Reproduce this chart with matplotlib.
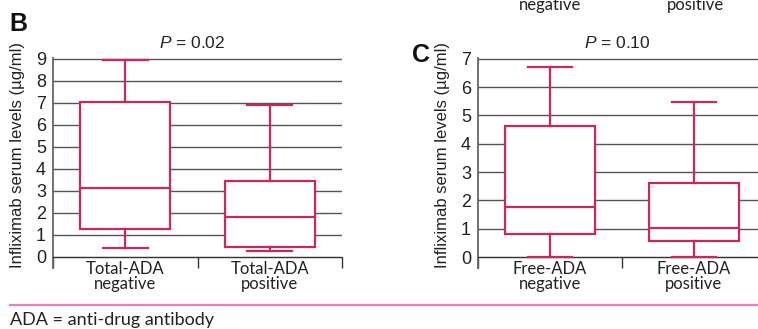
import matplotlib.pyplot as plt

# panel B: total ADA
groups_b = ['Total-ADA\nnegative', 'Total-ADA\npositive']
whislo_b = [0.4, 0.25]
q1_b = [1.25, 0.45]
med_b = [3.15, 1.8]
q3_b = [7.05, 3.45]
whishi_b = [8.95, 6.9]

# panel C: free ADA
groups_c = ['Free-ADA\nnegative', 'Free-ADA\npositive']
whislo_c = [0.0, 0.0]
q1_c = [0.8, 0.55]
med_c = [1.78, 1.04]
q3_c = [4.62, 2.6]
whishi_c = [6.72, 5.47]

W, H = 758, 329
RED = '#c8285c'
GRID = '#555555'

plt.rcParams['mathtext.fontset'] = 'custom'
plt.rcParams['mathtext.it'] = 'Liberation Sans:italic'
plt.rcParams['mathtext.rm'] = 'Liberation Sans'

fig = plt.figure(figsize=(W / 100, H / 100), dpi=100)


def px_box(l, t, r, b):
    return [l / W, 1 - b / H, (r - l) / W, (b - t) / H]


def panel(rect, groups, lo, q1, med, q3, hi, ymax, ybot):
    ax = fig.add_axes(rect)
    stats = []
    for i in range(len(groups)):
        stats.append(dict(whislo=lo[i], q1=q1[i], med=med[i], q3=q3[i], whishi=hi[i], fliers=[]))
    ax.bxp(stats, positions=[0.5, 1.5], widths=0.62, capwidths=0.31,
           patch_artist=True, showfliers=False,
           boxprops=dict(facecolor='white', edgecolor=RED, linewidth=1.6),
           medianprops=dict(color=RED, linewidth=1.6),
           whiskerprops=dict(color=RED, linewidth=1.6),
           capprops=dict(color=RED, linewidth=1.6),
           zorder=3)
    ax.set_xlim(0, 2)
    ax.set_ylim(ybot, ymax + 0.03)
    ax.set_yticks(range(0, ymax + 1))
    ax.yaxis.grid(True, color=GRID, linewidth=1)
    ax.set_axisbelow(True)
    for s in ['top', 'right']:
        ax.spines[s].set_visible(False)
    ax.spines['bottom'].set_position(('data', 0))
    ax.spines['bottom'].set_color('#333333')
    ax.spines['left'].set_color('#666666')
    ax.spines['left'].set_linewidth(1.3)
    ax.set_xticks([0, 1, 2])
    ax.set_xticklabels([])
    ax.set_xticks([0.5, 1.5], minor=True)
    ax.set_xticklabels(groups, minor=True, fontfamily='Lato', fontsize=12,
                       linespacing=0.9, color='#222222')
    ax.tick_params(axis='x', which='major', length=8, width=1, color='#333333')
    ax.tick_params(axis='x', which='minor', length=0, pad=3)
    ax.tick_params(axis='y', length=0, pad=5, labelsize=13, labelcolor='#222222')
    for lab in ax.get_yticklabels():
        lab.set_fontfamily('Liberation Sans')
    return ax


panel(px_box(53, 58, 342, 268), groups_b, whislo_b, q1_b, med_b, q3_b, whishi_b, 9, -0.5)
panel(px_box(478, 58, 766, 268), groups_c, whislo_c, q1_c, med_c, q3_c, whishi_c, 7, -0.387)

ylab = 'Infliximab serum levels (µg/ml)'
fig.text(18 / W, 1 - 155.5 / H, ylab, rotation=90, ha='center', va='center',
         fontfamily='Liberation Sans', fontsize=12, color='#222222')
fig.text(443 / W, 1 - 154.5 / H, ylab, rotation=90, ha='center', va='center',
         fontfamily='Liberation Sans', fontsize=12, color='#222222')

fig.text(192 / W, 1 - 43 / H, '$P$ = 0.02', ha='center', va='center',
         fontfamily='Liberation Sans', fontsize=12.5, color='#222222')
fig.text(617 / W, 1 - 43 / H, '$P$ = 0.10', ha='center', va='center',
         fontfamily='Liberation Sans', fontsize=12.5, color='#222222')

fig.text(9 / W, 1 - 24 / H, 'B', ha='left', va='center', fontfamily='Liberation Sans',
         fontweight='bold', fontsize=18, color='#111111')
fig.text(412 / W, 1 - 55 / H, 'C', ha='left', va='center', fontfamily='Liberation Sans',
         fontweight='bold', fontsize=18, color='#111111')

# leftover labels from panel A above
fig.text(550 / W, 1 - 10 / H, 'negative', ha='center', va='baseline',
         fontfamily='Lato', fontsize=12, color='#222222')
fig.text(695 / W, 1 - 10 / H, 'positive', ha='center', va='baseline',
         fontfamily='Lato', fontsize=12, color='#222222')

fig.add_artist(plt.Line2D([10 / W, 1], [1 - 305 / H, 1 - 305 / H], color='#f07cc0', linewidth=1.6))
fig.text(10 / W, 1 - 325 / H, 'ADA = anti-drug antibody', ha='left', va='baseline',
         fontfamily='Lato', fontsize=13, color='#222222')

fig.savefig('out.png', dpi=100)
